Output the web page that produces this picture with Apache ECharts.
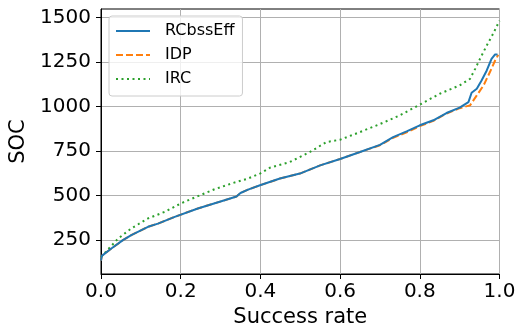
<!DOCTYPE html>
<html>
<head>
<meta charset="utf-8">
<script src="https://cdn.jsdelivr.net/npm/echarts@6/dist/echarts.min.js"></script>
<style>
  html, body { margin: 0; padding: 0; background: #fff; }
  #main { width: 524px; height: 328px; }
</style>
</head>
<body>
<div id="main"></div>
<script>
var rcX = [0, 0.002, 0.026, 0.055, 0.076, 0.118, 0.143, 0.185, 0.243, 0.31, 0.34, 0.35, 0.369, 0.399, 0.449, 0.499, 0.55, 0.6, 0.65, 0.7, 0.733, 0.767, 0.8, 0.834, 0.867, 0.9, 0.922, 0.93, 0.943, 0.955, 0.968, 0.98, 0.989, 0.995];
var rcY = [135, 162, 203, 250, 278, 325, 343, 381, 428, 474, 495, 515, 534, 558, 596, 624, 670, 706, 745, 785, 829, 861, 895, 923, 964, 994, 1025, 1078, 1100, 1147, 1203, 1268, 1293, 1293];

var idpX = [0, 0.002, 0.026, 0.055, 0.076, 0.118, 0.143, 0.185, 0.243, 0.31, 0.34, 0.35, 0.369, 0.399, 0.449, 0.499, 0.55, 0.6, 0.65, 0.7, 0.733, 0.767, 0.8, 0.834, 0.867, 0.9, 0.926, 0.943, 0.96, 0.976, 0.989, 0.997];
var idpY = [135, 162, 203, 250, 278, 325, 343, 381, 428, 474, 495, 515, 534, 558, 596, 624, 670, 706, 745, 783, 824, 856, 890, 920, 961, 991, 1007, 1063, 1119, 1194, 1259, 1291];

var ircX = [0, 0.002, 0.043, 0.076, 0.118, 0.16, 0.2, 0.243, 0.285, 0.327, 0.369, 0.399, 0.424, 0.474, 0.524, 0.566, 0.6, 0.65, 0.7, 0.75, 0.8, 0.85, 0.9, 0.926, 0.939, 0.951, 0.968, 0.984, 1.0];
var ircY = [155, 166, 259, 316, 372, 409, 456, 497, 536, 568, 596, 624, 657, 689, 745, 801, 814, 857, 902, 951, 1011, 1072, 1119, 1156, 1212, 1268, 1343, 1409, 1483];

var yTicks = [250, 500, 750, 1000, 1250, 1500];

function pairs(xs, ys) {
    return xs.map(function (x, i) { return [x, ys[i]]; });
}

var font = 'DejaVu Sans';
var myChart = echarts.init(document.getElementById('main'));
myChart.setOption({
    animation: false,
    grid: {
        left: 101, right: 24.5, top: 9, bottom: 54,
        outerBoundsMode: 'none',
        show: true, borderColor: '#000', borderWidth: 1
    },
    legend: {
        orient: 'vertical',
        left: 109, top: 16,
        itemWidth: 34, itemHeight: 14, itemGap: 8,
        padding: [7, 8, 9, 6],
        borderColor: '#cccccc', borderWidth: 1, borderRadius: 3,
        backgroundColor: 'rgba(255,255,255,0.8)',
        itemStyle: { opacity: 0 },   // hide the marker, keep the line sample
        textStyle: { fontFamily: font, fontSize: 16, color: '#000', padding: [0, 0, 0, 10] },
        data: ['RCbssEff', 'IDP', 'IRC']
    },
    xAxis: {
        type: 'value', min: 0, max: 1, interval: 0.2,
        name: 'Success rate', nameLocation: 'middle', nameGap: 30,
        nameTextStyle: { fontFamily: font, fontSize: 21, color: '#000' },
        axisLine: { lineStyle: { color: '#000', width: 1 } },
        axisTick: { show: true, length: 5, lineStyle: { color: '#000' } },
        axisLabel: {
            fontFamily: font, fontSize: 20, color: '#000', margin: 8,
            formatter: function (v) { return v.toFixed(1); }
        },
        splitLine: { show: true, lineStyle: { color: '#b0b0b0', width: 1 } }
    },
    yAxis: {
        type: 'value', min: 60, max: 1548,
        name: 'SOC', nameLocation: 'middle', nameGap: 48, nameRotate: 90,
        nameTextStyle: { fontFamily: font, fontSize: 21, color: '#000' },
        axisLine: { show: true, lineStyle: { color: '#000', width: 1 } },
        axisTick: { show: true, length: 5, customValues: yTicks, lineStyle: { color: '#000' } },
        axisLabel: {
            fontFamily: font, fontSize: 20, color: '#000', margin: 10, customValues: yTicks,
            formatter: function (v) { return String(v); }
        },
        splitLine: { show: true, lineStyle: { color: '#b0b0b0', width: 1 } }
    },
    series: [{
        name: 'RCbssEff', type: 'line', z: 4,
        data: pairs(rcX, rcY),
        symbol: 'circle', showSymbol: false, color: '#1f77b4',
        lineStyle: { width: 2, color: '#1f77b4' }
    }, {
        name: 'IDP', type: 'line', z: 3,
        data: pairs(idpX, idpY),
        symbol: 'circle', showSymbol: false, color: '#ff7f0e',
        lineStyle: { width: 2, color: '#ff7f0e', type: [7, 3] }
    }, {
        name: 'IRC', type: 'line', z: 3,
        data: pairs(ircX, ircY),
        symbol: 'circle', showSymbol: false, color: '#2ca02c',
        lineStyle: { width: 2, color: '#2ca02c', type: [2, 3.5] }
    }]
});
</script>
</body>
</html>
